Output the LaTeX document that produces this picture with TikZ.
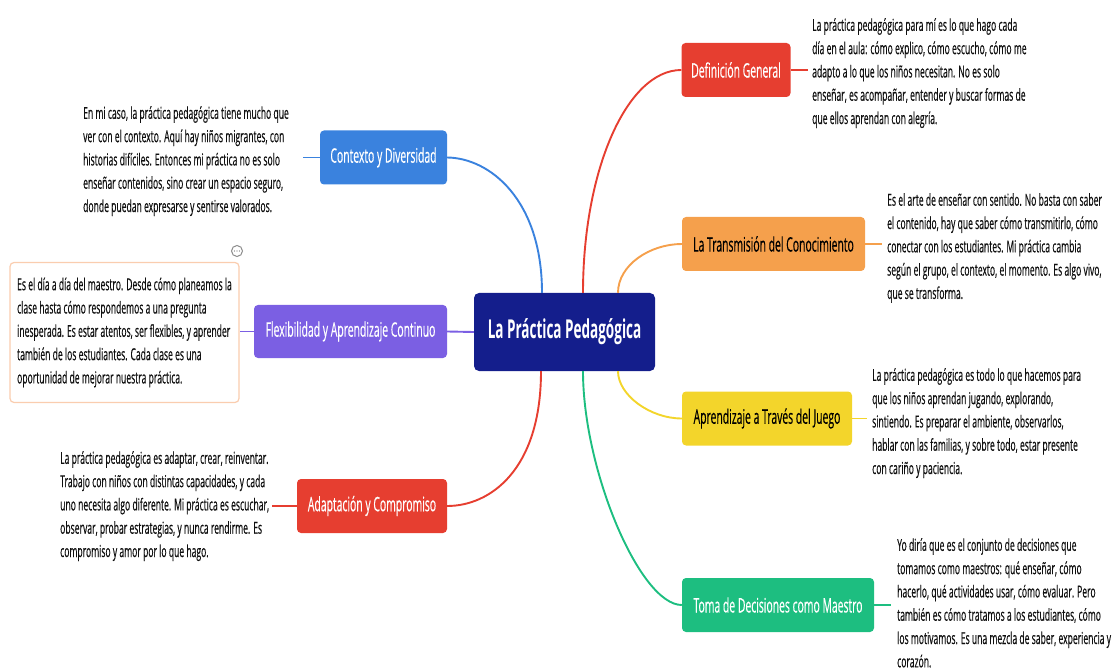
\documentclass[tikz,border=0pt]{standalone}
\usepackage{fontspec}
\setmainfont{Open Sans}[FakeStretch=0.52, UprightFeatures={FakeBold=0.35}]
\definecolor{cNavy}{RGB}{20,30,140}
\definecolor{cBlue}{RGB}{58,130,222}
\definecolor{cPurple}{RGB}{123,95,227}
\definecolor{cRed}{RGB}{230,62,48}
\definecolor{cOrange}{RGB}{245,160,76}
\definecolor{cYellow}{RGB}{243,213,43}
\definecolor{cGreen}{RGB}{29,190,128}
\definecolor{cPeach}{RGB}{250,205,175}
\definecolor{cInk}{RGB}{15,15,15}
\begin{document}
\begin{tikzpicture}[x=1pt,y=-1pt,
  branch/.style={rounded corners=4pt, inner sep=0pt, minimum height=54pt,
    font=\fontsize{20}{22}\selectfont, text=white},
  central/.style={rounded corners=5pt, inner sep=0pt, fill=cNavy, text=white,
    font=\bfseries\fontsize{26}{28}\selectfont},
  note/.style={anchor=north west, inner sep=0pt, align=left, text=cInk,
    font=\fontsize{16.5}{23.3}\selectfont},
  link/.style={line width=1.9pt},
  stub/.style={line width=1.9pt}]
\useasboundingbox (0,0) rectangle (1112,671);

% central topic
\node[central, minimum width=181pt, minimum height=78pt] (c) at (564.5,332) {La Práctica Pedagógica};

% main branches
\node[branch, fill=cBlue, minimum width=127pt] (ctx) at (383.5,157.5) {Contexto y Diversidad};
\node[branch, fill=cPurple, minimum width=193pt, minimum height=53pt] (flx) at (350.5,331.5) {Flexibilidad y Aprendizaje Continuo};
\node[branch, fill=cRed, minimum width=150pt] (adp) at (372,506) {Adaptación y Compromiso};
\node[branch, fill=cRed, minimum width=109pt] (def) at (736,70) {Definición General};
\node[branch, fill=cOrange, text=black, minimum width=183pt] (trn) at (773.5,244) {La Transmisión del Conocimiento};
\node[branch, fill=cYellow, text=black, minimum width=170pt] (jgo) at (767,418.5) {Aprendizaje a Través del Juego};
\node[branch, fill=cGreen, minimum width=192pt] (tom) at (778,605) {Toma de Decisiones como Maestro};

% curved links from the central topic
\draw[link, cBlue] ([xshift=-22.5pt]c.north) .. controls (542,200) and (490,158) .. (ctx.east);
\draw[link, cPurple] (c.west) -- (flx.east);
\draw[link, cRed] ([xshift=-23.5pt]c.south) .. controls (541,470) and (490,506) .. (adp.east);
\draw[link, cRed] ([xshift=18.5pt]c.north) .. controls (583,170) and (627,70) .. (def.west);
\draw[link, cOrange] ([xshift=53.5pt]c.north) .. controls (618,265) and (650,244) .. (trn.west);
\draw[link, cYellow] ([xshift=53.5pt]c.south) .. controls (618,395) and (650,418.5) .. (jgo.west);
\draw[link, cGreen] ([xshift=18.5pt]c.south) .. controls (583,470) and (640,605) .. (tom.west);

% notes
\node[note] (tdef) at (812,18) {La práctica pedagógica para mí es lo que hago cada\\
día en el aula: cómo explico, cómo escucho, cómo me\\
adapto a lo que los niños necesitan. No es solo\\
enseñar, es acompañar, entender y buscar formas de\\
que ellos aprendan con alegría.};

\node[note] (ttrn) at (887,193) {Es el arte de enseñar con sentido. No basta con saber\\
el contenido, hay que saber cómo transmitirlo, cómo\\
conectar con los estudiantes. Mi práctica cambia\\
según el grupo, el contexto, el momento. Es algo vivo,\\
que se transforma.};

\node[note] (tjgo) at (872,368) {La práctica pedagógica es todo lo que hacemos para\\
que los niños aprendan jugando, explorando,\\
sintiendo. Es preparar el ambiente, observarlos,\\
hablar con las familias, y sobre todo, estar presente\\
con cariño y paciencia.};

\node[note] (ttom) at (897,538) {Yo diría que es el conjunto de decisiones que\\
tomamos como maestros: qué enseñar, cómo\\
hacerlo, qué actividades usar, cómo evaluar. Pero\\
también es cómo tratamos a los estudiantes, cómo\\
los motivamos. Es una mezcla de saber, experiencia y\\
corazón.};

\node[note] (tctx) at (83,106) {En mi caso, la práctica pedagógica tiene mucho que\\
ver con el contexto. Aquí hay niños migrantes, con\\
historias difíciles. Entonces mi práctica no es solo\\
enseñar contenidos, sino crear un espacio seguro,\\
donde puedan expresarse y sentirse valorados.};

\node[note] (tadp) at (60,451) {La práctica pedagógica es adaptar, crear, reinventar.\\
Trabajo con niños con distintas capacidades, y cada\\
uno necesita algo diferente. Mi práctica es escuchar,\\
observar, probar estrategias, y nunca rendirme. Es\\
compromiso y amor por lo que hago.};

\node[note, anchor=center, draw=cPeach, line width=1.2pt, fill=white, rounded corners=4pt,
  minimum width=229pt, minimum height=140pt] (tflx) at (124.5,332.5) {Es el día a día del maestro. Desde cómo planeamos la\\
clase hasta cómo respondemos a una pregunta\\
inesperada. Es estar atentos, ser flexibles, y aprender\\
también de los estudiantes. Cada clase es una\\
oportunidad de mejorar nuestra práctica.};

% small comment marker on the note
\node[circle, draw=black!45, fill=white, line width=1pt, minimum size=11pt, inner sep=0pt] (mk) at (237,251) {};
\foreach \dx in {-2.5,0,2.5} \fill[black!55] ([xshift=\dx pt]mk.center) circle (0.7pt);

% short stubs from branches to their notes
\coordinate (ctxEnd) at (303,157.5);
\coordinate (adpEnd) at (272,506);
\draw[stub, cRed] (def.east) -- ([xshift=-4pt]tdef.west |- def.east);
\draw[stub, cOrange] (trn.east) -- ([xshift=-5pt]ttrn.west |- trn.east);
\draw[stub, cYellow] (jgo.east) -- ([xshift=-5pt]tjgo.west |- jgo.east);
\draw[stub, cGreen] (tom.east) -- ([xshift=-6pt]ttom.west |- tom.east);
\draw[stub, cBlue] (ctx.west) -- (ctxEnd);
\draw[stub, cPurple] (flx.west) -- (tflx.east |- flx.west);
\draw[stub, cRed] (adp.west) -- (adpEnd);
\end{tikzpicture}
\end{document}
